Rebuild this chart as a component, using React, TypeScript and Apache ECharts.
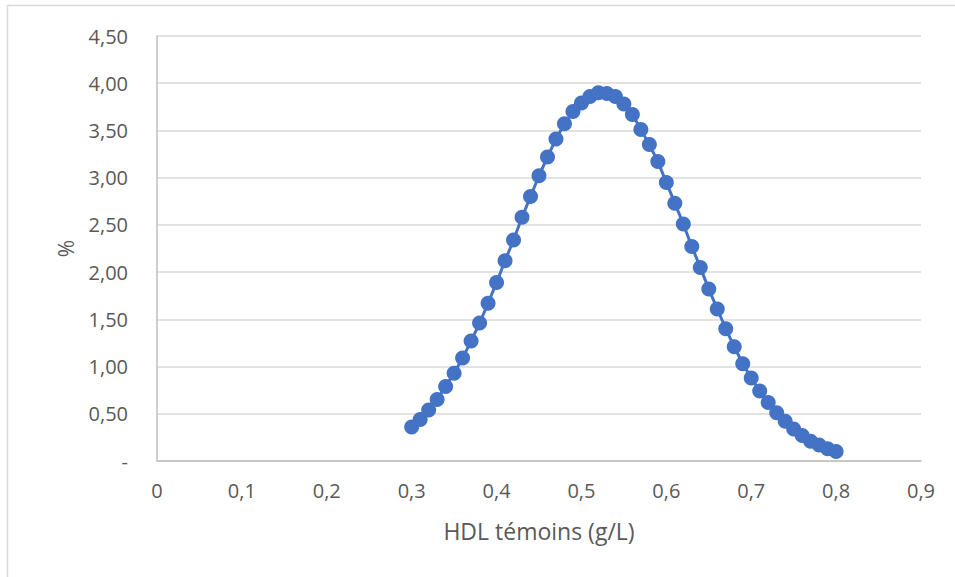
import React, { useEffect, useRef } from "react";
import * as echarts from "echarts";

const xValues = [
  0.30, 0.31, 0.32, 0.33, 0.34, 0.35, 0.36, 0.37, 0.38, 0.39,
  0.40, 0.41, 0.42, 0.43, 0.44, 0.45, 0.46, 0.47, 0.48, 0.49,
  0.50, 0.51, 0.52, 0.53, 0.54, 0.55, 0.56, 0.57, 0.58, 0.59,
  0.60, 0.61, 0.62, 0.63, 0.64, 0.65, 0.66, 0.67, 0.68, 0.69,
  0.70, 0.71, 0.72, 0.73, 0.74, 0.75, 0.76, 0.77, 0.78, 0.79, 0.80,
];
const yValues = [
  0.36, 0.44, 0.54, 0.65, 0.79, 0.93, 1.09, 1.27, 1.46, 1.67,
  1.89, 2.12, 2.34, 2.58, 2.80, 3.02, 3.22, 3.41, 3.57, 3.70,
  3.79, 3.86, 3.90, 3.89, 3.86, 3.78, 3.67, 3.51, 3.35, 3.17,
  2.95, 2.73, 2.51, 2.27, 2.05, 1.82, 1.61, 1.40, 1.21, 1.03,
  0.88, 0.74, 0.62, 0.51, 0.42, 0.34, 0.27, 0.21, 0.17, 0.13, 0.10,
];
const xAxisTitle = "HDL témoins (g/L)";
const yAxisTitle = "%";

const FONT = "'Open Sans', 'Noto Sans', sans-serif";

export default function App() {
  const ref = useRef<HTMLDivElement>(null);
  useEffect(() => {
    if (!ref.current) return;
    const chart = echarts.init(ref.current, undefined, { renderer: "svg" });
    const data = xValues.map((x, i) => [x, yValues[i]]);
    chart.setOption({
      animation: false,
      backgroundColor: "#ffffff",
      textStyle: { fontFamily: FONT },
      graphic: [
        { type: "line", shape: { x1: 7, y1: 5.5, x2: 955, y2: 5.5 }, style: { stroke: "#d9d9d9", lineWidth: 1.5 } },
        { type: "line", shape: { x1: 7.5, y1: 5, x2: 7.5, y2: 577 }, style: { stroke: "#d9d9d9", lineWidth: 1.5 } },
      ],
      grid: { left: 157, right: 34, top: 36, bottom: 116, containLabel: false },
      xAxis: {
        type: "value",
        min: 0,
        max: 0.9,
        interval: 0.1,
        name: xAxisTitle,
        nameLocation: "middle",
        nameGap: 58,
        nameTextStyle: { fontSize: 23, color: "#595959", fontFamily: FONT },
        axisLine: { show: true, lineStyle: { color: "#bfbfbf", width: 1.5 } },
        axisTick: { show: false },
        splitLine: { show: false },
        axisLabel: {
          fontSize: 20,
          color: "#595959",
          margin: 19,
          fontFamily: FONT,
          formatter: (v: number) => (Math.round(v * 10) / 10).toString().replace(".", ","),
        },
      },
      yAxis: {
        type: "value",
        min: 0,
        max: 4.5,
        interval: 0.5,
        name: yAxisTitle,
        nameLocation: "middle",
        nameGap: 81,
        nameRotate: 90,
        nameTextStyle: { fontSize: 21, color: "#595959", fontFamily: FONT },
        axisLine: { show: true, lineStyle: { color: "#bfbfbf", width: 1.5 } },
        axisTick: { show: false },
        splitLine: { show: true, lineStyle: { color: "#d9d9d9", width: 1.5 } },
        axisLabel: {
          fontSize: 20,
          color: "#595959",
          margin: 29,
          fontFamily: FONT,
          formatter: (v: number) => (v === 0 ? "-" : v.toFixed(2).replace(".", ",")),
        },
      },
      series: [
        {
          type: "line",
          data,
          symbol: "circle",
          symbolSize: 15,
          lineStyle: { color: "#4472c4", width: 3 },
          itemStyle: { color: "#4472c4" },
          smooth: false,
        },
      ],
    });
    return () => chart.dispose();
  }, []);
  return <div ref={ref} style={{ width: 955, height: 577, position: "absolute", left: 0, top: 0 }} />;
}
